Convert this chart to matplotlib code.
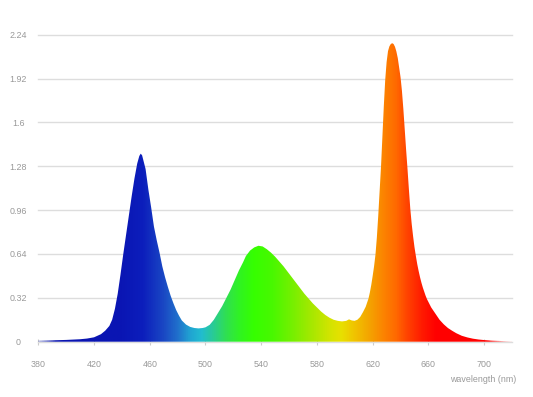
import numpy as np
import matplotlib.pyplot as plt
from matplotlib.colors import LinearSegmentedColormap, to_rgba
from matplotlib.patches import Polygon

# spectrum (wavelength nm -> relative intensity)
wavelength = [380, 390, 400, 410, 415, 420, 425, 428, 431, 433, 435, 437, 439, 441, 443,
              445, 447, 449, 451, 452.5, 453.5, 454.5, 456, 457, 459, 461, 463, 465, 467,
              469, 471, 473, 475, 477, 479, 481, 483, 486, 489, 492, 495, 498, 500, 503,
              506, 509, 512, 515, 518, 521, 524, 527, 529, 532, 535, 538, 541, 544, 547,
              550, 553, 556, 559, 562, 565, 568, 571, 574, 577, 580, 583, 586, 589, 592,
              595, 598, 601, 603, 605, 607, 609, 611, 613, 615, 616, 617, 618, 619, 620,
              621, 622, 623, 624, 625, 626, 627, 628, 629, 630, 631, 632, 633, 634, 635,
              636, 637, 638, 639, 640, 641, 642, 643, 644, 645, 646, 647, 648, 649, 650,
              651, 652, 653, 654, 655, 656, 657, 658, 659, 660, 662, 665, 668, 671, 674,
              677, 680, 684, 688, 692, 696, 700, 705, 710, 715, 720]
intensity = [0.008, 0.010, 0.013, 0.018, 0.023, 0.032, 0.055, 0.08, 0.115, 0.16, 0.24,
             0.35, 0.49, 0.64, 0.78, 0.92, 1.06, 1.19, 1.30, 1.355, 1.372, 1.36, 1.30,
             1.26, 1.11, 0.98, 0.84, 0.74, 0.65, 0.55, 0.47, 0.40, 0.335, 0.28, 0.23,
             0.19, 0.155, 0.125, 0.108, 0.100, 0.097, 0.100, 0.105, 0.123, 0.16, 0.21,
             0.26, 0.32, 0.38, 0.45, 0.52, 0.58, 0.625, 0.665, 0.688, 0.70, 0.695, 0.675,
             0.65, 0.62, 0.585, 0.55, 0.51, 0.47, 0.43, 0.39, 0.35, 0.315, 0.28, 0.25,
             0.22, 0.195, 0.175, 0.16, 0.152, 0.148, 0.152, 0.163, 0.155, 0.152, 0.16,
             0.18, 0.215, 0.255, 0.285, 0.315, 0.36, 0.415, 0.48, 0.55, 0.635, 0.76,
             0.92, 1.10, 1.28, 1.50, 1.72, 1.91, 2.04, 2.12, 2.155, 2.172, 2.178, 2.172,
             2.152, 2.118, 2.07, 2.00, 1.93, 1.83, 1.70, 1.55, 1.40, 1.26, 1.11, 0.97,
             0.86, 0.77, 0.69, 0.625, 0.565, 0.515, 0.47, 0.43, 0.395, 0.365, 0.335, 0.31,
             0.29, 0.25, 0.205, 0.16, 0.127, 0.10, 0.08, 0.062, 0.043, 0.031, 0.022,
             0.016, 0.012, 0.008, 0.006, 0.004, 0.003]

xticks = [380, 420, 460, 500, 540, 580, 620, 660, 700]
yticks = [0, 0.32, 0.64, 0.96, 1.28, 1.6, 1.92, 2.24]
ytick_labels = ['0', '0.32', '0.64', '0.96', '1.28', '1.6', '1.92', '2.24']

# colour of the fill along the wavelength axis
stops = [(380, '#0a1aa8', 0.35), (392, '#0a14b0', 1), (440, '#0a16b4', 1),
         (455, '#0c1ebc', 1), (470, '#1a48c4', 1), (480, '#2070cc', 1),
         (489, '#20a4d2', 1), (497, '#22bcd0', 1), (504, '#28c8a0', 1),
         (515, '#30e050', 1), (525, '#30f420', 1), (535, '#36ff00', 1),
         (548, '#48f800', 1), (562, '#74f000', 1), (577, '#a8e800', 1),
         (590, '#d4e400', 1), (598, '#e8e000', 1), (607, '#f0c400', 1),
         (618, '#f4a400', 1), (628, '#fc8400', 1), (637, '#ff6a00', 1),
         (645, '#ff4400', 1), (656, '#ff1a00', 1), (666, '#ff0000', 1),
         (704, '#ff0000', 1), (720, '#ff2020', 0.12)]

cols = []
for nm, c, a in stops:
    r, g, b, _ = to_rgba(c)
    cols.append(((nm - 380) / 340, (r, g, b, a)))
cmap = LinearSegmentedColormap.from_list('spec', cols)

fig = plt.figure(figsize=(5.33, 3.97), dpi=100)
ax = fig.add_axes([38.3 / 533, 1 - 341.7 / 397, (512 - 38.3) / 533, (341.7 - 34.7) / 397])

verts = np.column_stack([wavelength + [720, 380], intensity + [0, 0]])
patch = Polygon(verts, closed=True, facecolor='none', edgecolor='none')
ax.add_patch(patch)

grad = np.linspace(0, 1, 1024).reshape(1, -1)
im = ax.imshow(grad, extent=[380, 720, 0, 2.24], aspect='auto', cmap=cmap,
               origin='lower', interpolation='bilinear', zorder=2)
im.set_clip_path(patch)

ax.set_xlim(380, 720)
ax.set_ylim(0, 2.24)
ax.set_xticks(xticks)
ax.set_yticks(yticks)
ax.set_yticklabels(ytick_labels)

for s in ax.spines.values():
    s.set_visible(False)
ax.grid(axis='y', color='#dddddd', linewidth=1)
for gl in ax.get_ygridlines():
    gl.set_clip_on(False)

tc = '#999999'
ax.tick_params(axis='y', length=0, pad=14.4, labelsize=6.4, labelcolor=tc)
for lab in ax.get_yticklabels():
    lab.set_horizontalalignment('center')
    lab.set_fontfamily('Liberation Sans')
ax.tick_params(axis='x', direction='inout', length=4, color='#cccccc', pad=11,
               labelsize=6.4, labelcolor=tc)
for lab in ax.get_xticklabels():
    lab.set_fontfamily('Liberation Sans')

fig.text(516 / 533, 1 - 379.3 / 397, 'wavelength (nm)', ha='right', va='center',
         fontsize=6.4, color=tc, family='Liberation Sans')

fig.savefig('out.png', dpi=100)
